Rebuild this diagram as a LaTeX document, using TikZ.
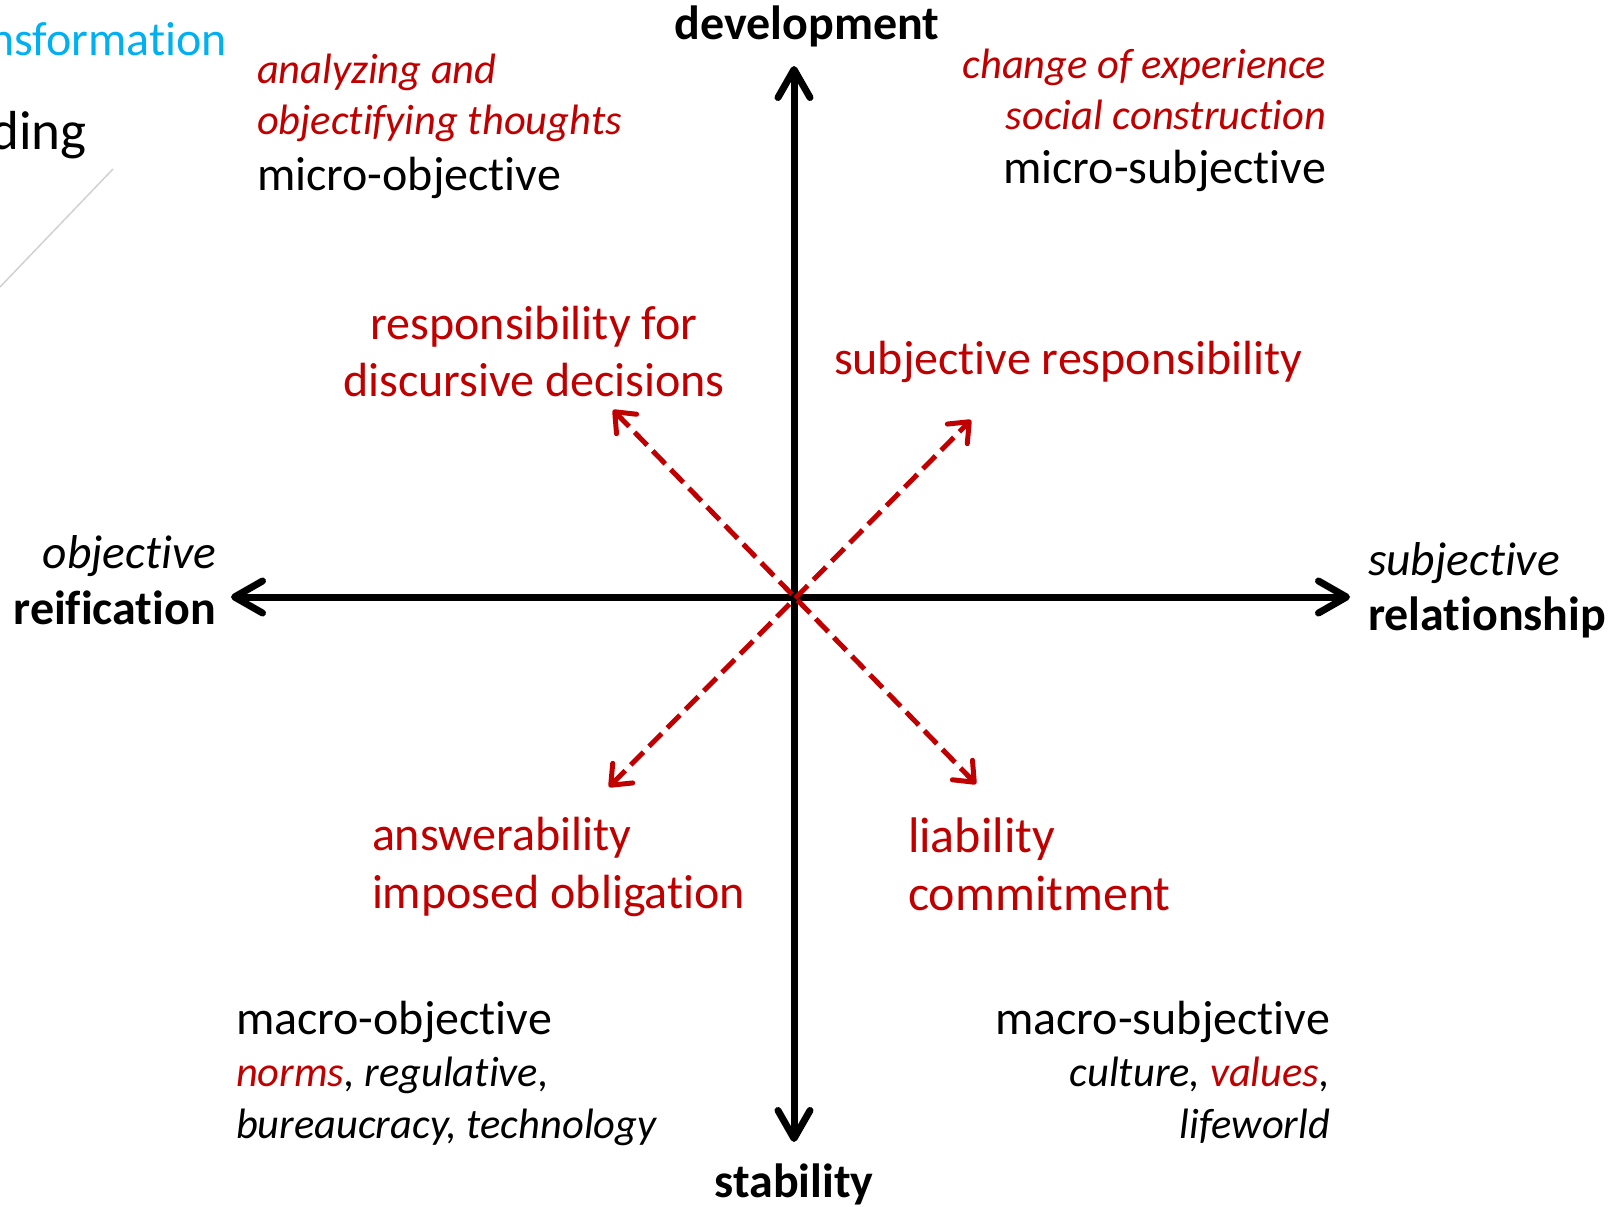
\documentclass[tikz,border=0pt]{standalone}
\usepackage{fontspec}
\setmainfont{Carlito}[Ligatures={NoCommon,NoContextual}]
\usetikzlibrary{arrows.meta}
\definecolor{myred}{HTML}{C00000}
\definecolor{mycyan}{HTML}{00B0F0}
\begin{document}
\begin{tikzpicture}[x=1pt,y=-1pt,
  txt/.style={inner sep=0pt, outer sep=0pt, font=\fontsize{48}{57}\selectfont},
  itxt/.style={inner sep=0pt, outer sep=0pt, font=\fontsize{42.5}{51}\selectfont\itshape},
  aitxt/.style={inner sep=0pt, outer sep=0pt, font=\fontsize{47.5}{57}\selectfont\itshape},
  btxt/.style={inner sep=0pt, outer sep=0pt, font=\fontsize{48}{57}\selectfont\bfseries},
  rtxt/.style={txt, text=myred},
  ritxt/.style={itxt, text=myred},
  axis/.style={line width=7pt,
    arrows={Straight Barb[length=28pt,width=32pt,round]-Straight Barb[length=28pt,width=32pt,round]}},
  redarr/.style={draw=myred, line width=5pt, dash pattern=on 18pt off 8pt,
    arrows={Straight Barb[length=17pt,width=28pt,round]-Straight Barb[length=17pt,width=28pt,round]}}
  ]
\useasboundingbox (0,0) rectangle (1610,1207);

% faint fragments at the left edge
\draw[line width=1.5pt, color=black!18] (0,287) -- (113,169);
\node[txt, text=mycyan, anchor=base east] (frag1) at (227,56) {nsformation};
\node[inner sep=0pt, font=\fontsize{55}{66}\selectfont, anchor=base east] (frag2) at (87,149) {ding};

% axes
\coordinate (C) at (794,597);
\coordinate (L) at (231,597);
\coordinate (R) at (1350,597);
\coordinate (T) at (794,66);
\coordinate (B) at (794,1142);
\draw[axis] (L) -- (R);
\draw[axis] (B) -- (T);

% red dashed arrows
\coordinate (UL) at (613,410);
\coordinate (LR) at (976,784);
\coordinate (UR) at (971,420);
\coordinate (LL) at (609,787);
\draw[redarr] (UL) -- (LR);
\draw[redarr] (LL) -- (UR);

% axis labels
\node[btxt, anchor=base] (dev) at (807,40) {development};
\node[btxt, anchor=base] (stab) at (794,1197) {stability};
\node[aitxt, anchor=base east] (obj) at (216,568) {objective};
\node[btxt, anchor=base east] (reif) at (216,624) {reification};
\node[aitxt, anchor=base west] (subj) at (1368,575) {subjective};
\node[btxt, anchor=base west] (rel) at (1368,630) {relationship};

% top-left quadrant
\node[ritxt, anchor=base west] (tl1) at (257,84) {analyzing and};
\node[ritxt, anchor=base west] (tl2) at (257,134) {objectifying thoughts};
\node[txt, anchor=base west] (tl3) at (257,190) {micro-objective};

% top-right quadrant
\node[ritxt, anchor=base east] (tr1) at (1326,78) {change of experience};
\node[ritxt, anchor=base east] (tr2) at (1326,129) {social construction};
\node[txt, anchor=base east] (tr3) at (1326,183) {micro-subjective};

% bottom-left quadrant
\node[txt, anchor=base west] (bl1) at (236,1034) {macro-objective};
\node[itxt, anchor=base west] (bl2) at (236,1086) {\textcolor{myred}{norms}, regulative,};
\node[itxt, anchor=base west] (bl3) at (236,1138) {bureaucracy, technology};

% bottom-right quadrant
\node[txt, anchor=base east] (br1) at (1330,1034) {macro-subjective};
\node[itxt, anchor=base east] (br2) at (1330,1086) {culture, \textcolor{myred}{values},};
\node[itxt, anchor=base east] (br3) at (1330,1138) {lifeworld};

% responsibility labels
\node[rtxt, anchor=base] (r1a) at (534,339) {responsibility for};
\node[rtxt, anchor=base] (r1b) at (534,396) {discursive decisions};
\node[rtxt, anchor=base west] (r2) at (834,374) {subjective responsibility};
\node[rtxt, anchor=base west] (r3a) at (372,850) {answerability};
\node[rtxt, anchor=base west] (r3b) at (372,908) {imposed obligation};
\node[rtxt, anchor=base west, font=\fontsize{50}{60}\selectfont] (r4a) at (908,852) {liability};
\node[rtxt, anchor=base west, font=\fontsize{50}{60}\selectfont] (r4b) at (908,910) {commitment};
\end{tikzpicture}
\end{document}
